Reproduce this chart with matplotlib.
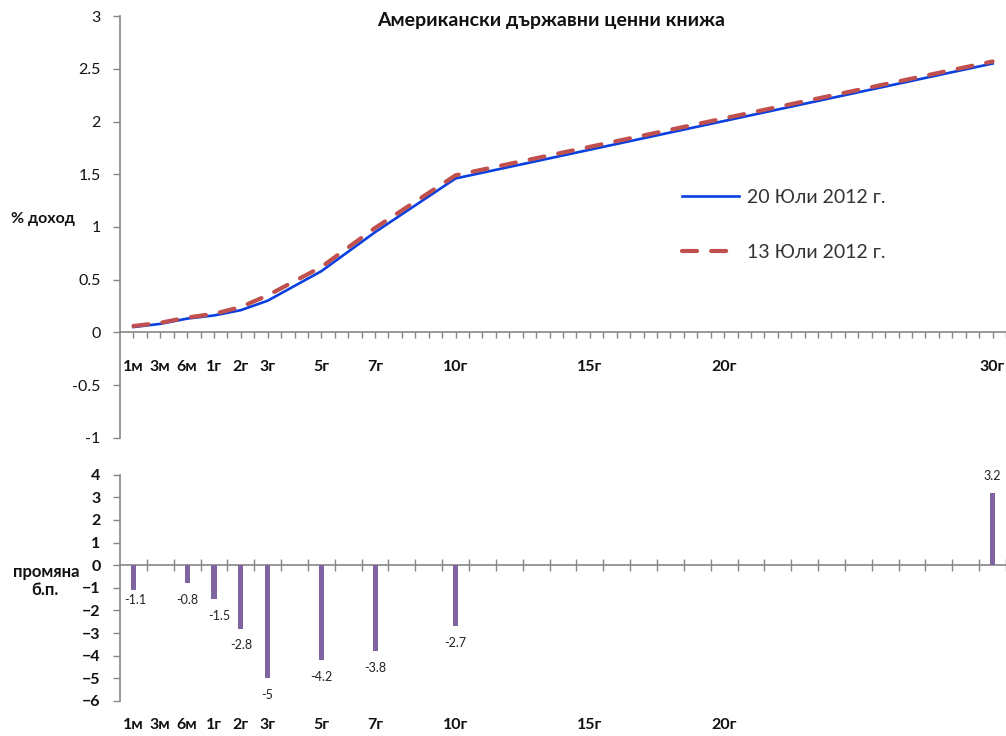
# US Treasury yield curve, 13 vs 20 July 2012, with weekly change in bp

import matplotlib.pyplot as plt
from matplotlib.ticker import FixedLocator

plt.rcParams['font.family'] = ['Lato', 'DejaVu Sans']

# category axis: 1м, 3м, 6м, then every year 1..30
categories = ["1м", "3м", "6м"] + [f"{y}г" for y in range(1, 31)]
top_labels = ["1м", "3м", "6м", "1г", "2г", "3г", "5г", "7г", "10г", "15г", "20г", "30г"]
bottom_labels = ["1м", "3м", "6м", "1г", "2г", "3г", "5г", "7г", "10г", "15г", "20г"]

# yields, % (only maturities with quotes)
curve_tenors = ["1м", "3м", "6м", "1г", "2г", "3г", "5г", "7г", "10г", "30г"]
yield_jul20 = [0.05, 0.08, 0.13, 0.16, 0.21, 0.30, 0.58, 0.95, 1.46, 2.55]
yield_jul13 = [0.06, 0.09, 0.14, 0.175, 0.24, 0.35, 0.62, 0.99, 1.49, 2.57]

# weekly change, basis points
change_tenors = ["1м", "6м", "1г", "2г", "3г", "5г", "7г", "10г", "30г"]
change_bp = [-1.1, -0.8, -1.5, -2.8, -5, -4.2, -3.8, -2.7, 3.2]

pos = {c: i for i, c in enumerate(categories)}
axis_grey = "#868686"

fig = plt.figure(figsize=(10.06, 7.36), dpi=100)
ax = fig.add_axes([0.1193, 0.4053, 0.8807, 0.5728])
ax2 = fig.add_axes([0.1193, 0.0476, 0.8807, 0.3075])

# ---- yield curve ----
x_curve = [pos[c] for c in curve_tenors]
ax.plot(x_curve, yield_jul20, color="#0A3FE0", lw=1.9, label="20 Юли 2012 г.", zorder=3)
ax.plot(x_curve, yield_jul13, color="#C0504D", lw=3.0, dashes=(3.6, 3.4),
        dash_capstyle="round", label="13 Юли 2012 г.", zorder=4)

ax.set_xlim(-0.5, 32.5)
ax.set_ylim(-1, 3)
ax.set_yticks([-1, -0.5, 0, 0.5, 1, 1.5, 2, 2.5, 3])
ax.set_yticklabels(["-1", "-0.5", "0", "0.5", "1", "1.5", "2", "2.5", "3"])
ax.xaxis.set_major_locator(FixedLocator([i * 0.5 for i in range(66)]))
ax.set_xticklabels([])
for s in ["top", "right"]:
    ax.spines[s].set_visible(False)
ax.spines["bottom"].set_position(("data", 0))
for s in ["left", "bottom"]:
    ax.spines[s].set_color(axis_grey)
    ax.spines[s].set_linewidth(1.2)
ax.tick_params(axis="x", direction="out", length=4, width=1, color=axis_grey)
ax.tick_params(axis="y", direction="out", length=5, width=1, color=axis_grey,
               labelsize=11.5, pad=9, labelcolor="#111111")

for lab in top_labels:
    ax.text(pos[lab], -0.33, lab, ha="center", va="center", fontsize=11.5,
            fontweight="bold", color="#111111")

fig.text(0.548, 0.972, "Американски държавни ценни книжа", ha="center", va="center",
         fontsize=14, fontweight="bold", color="#111111")
fig.text(0.043, 0.702, "% доход", ha="center", va="center", fontsize=11.5,
         fontweight="bold", color="#111111")

leg = ax.legend(loc="upper left", bbox_to_anchor=(0.615, 0.632), frameon=False,
                fontsize=14, handlelength=2.9, handletextpad=0.4, labelspacing=1.95,
                labelcolor="#333333")

# ---- change in bp ----
x_bar = [pos[c] for c in change_tenors]
bars = ax2.bar(x_bar, change_bp, width=0.19, color="#8064A2", zorder=3)

nudge = {"1м": (1, 5), "1г": (4, 0)}
for c, v in zip(change_tenors, change_bp):
    dx, dy = nudge.get(c, (0, 0))
    off = 12 if v > 0 else -12
    ax2.annotate(f"{v:g}", (pos[c], v), xytext=(dx, off + dy), textcoords="offset points",
                 ha="center", va="center", fontsize=9, color="#222222")

ax2.set_xlim(-0.5, 32.5)
ax2.set_ylim(-6, 4)
ax2.set_yticks(range(-6, 5))
ax2.xaxis.set_major_locator(FixedLocator([i + 0.5 for i in range(33)]))
ax2.set_xticklabels([])
for s in ["top", "right"]:
    ax2.spines[s].set_visible(False)
ax2.spines["bottom"].set_position(("data", 0))
for s in ["left", "bottom"]:
    ax2.spines[s].set_color(axis_grey)
    ax2.spines[s].set_linewidth(1.2)
ax2.tick_params(axis="x", direction="inout", length=8, width=1, color=axis_grey)
ax2.tick_params(axis="y", direction="out", length=5, width=1, color=axis_grey,
                labelsize=11.5, pad=9, labelcolor="#111111")
for t in ax2.get_yticklabels():
    t.set_fontweight("bold")

for lab in bottom_labels:
    ax2.text(pos[lab], -7.05, lab, ha="center", va="center", fontsize=11.5,
             fontweight="bold", color="#111111", clip_on=False)

fig.text(0.046, 0.223, "промяна", ha="center", va="center", fontsize=12,
         fontweight="bold", color="#111111")
fig.text(0.045, 0.199, "б.п.", ha="center", va="center", fontsize=12,
         fontweight="bold", color="#111111")

fig.savefig("out.png", dpi=100)
